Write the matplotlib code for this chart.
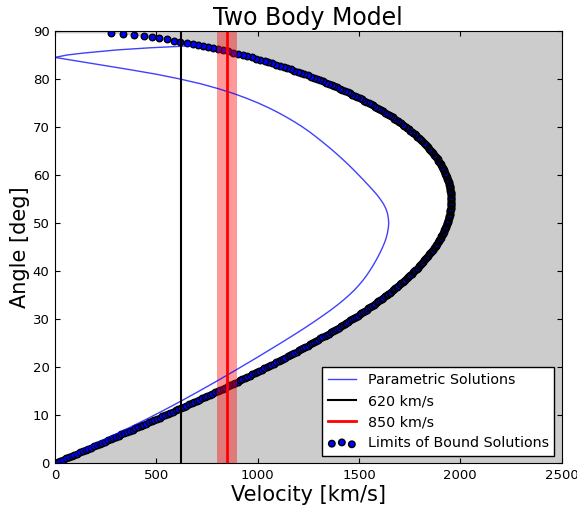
import numpy as np
import matplotlib
matplotlib.use("Agg")
import matplotlib.pyplot as plt

# Upper limit on the line-of-sight velocity for a bound pair, per projection angle
bound_angle = [
    0.0, 0.25, 0.5, 0.75, 1.0, 1.25, 1.5, 1.75, 2.0, 2.25, 2.5, 2.75,
    3.0, 3.25, 3.5, 3.75, 4.0, 4.25, 4.5, 4.75, 5.0, 5.25, 5.5, 5.75,
    6.0, 6.25, 6.5, 6.75, 7.0, 7.25, 7.5, 7.75, 8.0, 8.25, 8.5, 8.75,
    9.0, 9.25, 9.5, 9.75, 10.0, 10.25, 10.5, 10.75, 11.0, 11.25, 11.5, 11.75,
    12.0, 12.25, 12.5, 12.75, 13.0, 13.25, 13.5, 13.75, 14.0, 14.25, 14.5, 14.75,
    15.0, 15.25, 15.5, 15.75, 16.0, 16.25, 16.5, 16.75, 17.0, 17.25, 17.5, 17.75,
    18.0, 18.25, 18.5, 18.75, 19.0, 19.25, 19.5, 19.75, 20.0, 20.25, 20.5, 20.75,
    21.0, 21.25, 21.5, 21.75, 22.0, 22.25, 22.5, 22.75, 23.0, 23.25, 23.5, 23.75,
    24.0, 24.25, 24.5, 24.75, 25.0, 25.25, 25.5, 25.75, 26.0, 26.25, 26.5, 26.75,
    27.0, 27.25, 27.5, 27.75, 28.0, 28.25, 28.5, 28.75, 29.0, 29.25, 29.5, 29.75,
    30.0, 30.25, 30.5, 30.75, 31.0, 31.25, 31.5, 31.75, 32.0, 32.25, 32.5, 32.75,
    33.0, 33.25, 33.5, 33.75, 34.0, 34.25, 34.5, 34.75, 35.0, 35.25, 35.5, 35.75,
    36.0, 36.25, 36.5, 36.75, 37.0, 37.25, 37.5, 37.75, 38.0, 38.25, 38.5, 38.75,
    39.0, 39.25, 39.5, 39.75, 40.0, 40.25, 40.5, 40.75, 41.0, 41.25, 41.5, 41.75,
    42.0, 42.25, 42.5, 42.75, 43.0, 43.25, 43.5, 43.75, 44.0, 44.25, 44.5, 44.75,
    45.0, 45.25, 45.5, 45.75, 46.0, 46.25, 46.5, 46.75, 47.0, 47.25, 47.5, 47.75,
    48.0, 48.25, 48.5, 48.75, 49.0, 49.25, 49.5, 49.75, 50.0, 50.25, 50.5, 50.75,
    51.0, 51.25, 51.5, 51.75, 52.0, 52.25, 52.5, 52.75, 53.0, 53.25, 53.5, 53.75,
    54.0, 54.25, 54.5, 54.75, 55.0, 55.25, 55.5, 55.75, 56.0, 56.25, 56.5, 56.75,
    57.0, 57.25, 57.5, 57.75, 58.0, 58.25, 58.5, 58.75, 59.0, 59.25, 59.5, 59.75,
    60.0, 60.25, 60.5, 60.75, 61.0, 61.25, 61.5, 61.75, 62.0, 62.25, 62.5, 62.75,
    63.0, 63.25, 63.5, 63.75, 64.0, 64.25, 64.5, 64.75, 65.0, 65.25, 65.5, 65.75,
    66.0, 66.25, 66.5, 66.75, 67.0, 67.25, 67.5, 67.75, 68.0, 68.25, 68.5, 68.75,
    69.0, 69.25, 69.5, 69.75, 70.0, 70.25, 70.5, 70.75, 71.0, 71.25, 71.5, 71.75,
    72.0, 72.25, 72.5, 72.75, 73.0, 73.25, 73.5, 73.75, 74.0, 74.25, 74.5, 74.75,
    75.0, 75.25, 75.5, 75.75, 76.0, 76.25, 76.5, 76.75, 77.0, 77.25, 77.5, 77.75,
    78.0, 78.25, 78.5, 78.75, 79.0, 79.25, 79.5, 79.75, 80.0, 80.25, 80.5, 80.75,
    81.0, 81.25, 81.5, 81.75, 82.0, 82.25, 82.5, 82.75, 83.0, 83.25, 83.5, 83.75,
    84.0, 84.25, 84.5, 84.75, 85.0, 85.25, 85.5, 85.75, 86.0, 86.25,
    86.5, 86.7, 86.9, 87.1, 87.3, 87.55, 87.8, 88.0, 88.25, 88.45,
    88.7, 88.9, 89.1, 89.35, 89.6,
]
bound_velocity = [
    0, 14, 27, 41, 55, 69, 82, 96, 110, 124, 137, 151,
    165, 178, 192, 206, 220, 233, 247, 260, 274, 288, 301, 315,
    328, 342, 356, 369, 383, 396, 410, 423, 436, 450, 463, 477,
    490, 503, 516, 530, 543, 556, 569, 583, 596, 609, 622, 635,
    648, 661, 674, 687, 700, 713, 725, 738, 751, 764, 776, 789,
    802, 814, 827, 839, 852, 864, 876, 889, 901, 913, 925, 937,
    950, 962, 974, 986, 998, 1009, 1021, 1033, 1045, 1056, 1068, 1080,
    1091, 1103, 1114, 1125, 1137, 1148, 1159, 1170, 1181, 1192, 1203, 1214,
    1225, 1236, 1247, 1257, 1268, 1278, 1289, 1299, 1310, 1320, 1330, 1340,
    1350, 1360, 1370, 1380, 1390, 1400, 1410, 1419, 1429, 1438, 1448, 1457,
    1466, 1475, 1485, 1494, 1503, 1511, 1520, 1529, 1538, 1546, 1555, 1563,
    1572, 1580, 1588, 1596, 1604, 1612, 1620, 1628, 1636, 1643, 1651, 1658,
    1666, 1673, 1680, 1688, 1695, 1702, 1709, 1715, 1722, 1729, 1735, 1742,
    1748, 1754, 1761, 1767, 1773, 1779, 1785, 1790, 1796, 1801, 1807, 1812,
    1818, 1823, 1828, 1833, 1838, 1843, 1847, 1852, 1857, 1861, 1865, 1869,
    1874, 1878, 1882, 1885, 1889, 1893, 1896, 1900, 1903, 1906, 1910, 1913,
    1916, 1918, 1921, 1924, 1926, 1929, 1931, 1933, 1935, 1937, 1939, 1941,
    1943, 1944, 1946, 1947, 1948, 1949, 1951, 1951, 1952, 1953, 1954, 1954,
    1954, 1955, 1955, 1955, 1955, 1955, 1954, 1954, 1954, 1953, 1952, 1951,
    1950, 1949, 1948, 1947, 1945, 1944, 1942, 1940, 1938, 1936, 1934, 1932,
    1930, 1927, 1925, 1922, 1919, 1916, 1913, 1910, 1906, 1903, 1899, 1896,
    1892, 1888, 1884, 1880, 1875, 1871, 1866, 1861, 1857, 1852, 1846, 1841,
    1836, 1830, 1825, 1819, 1813, 1807, 1801, 1795, 1788, 1782, 1775, 1768,
    1761, 1754, 1747, 1739, 1732, 1724, 1716, 1708, 1700, 1692, 1683, 1675,
    1666, 1657, 1648, 1639, 1629, 1620, 1610, 1600, 1590, 1580, 1570, 1559,
    1548, 1537, 1527, 1515, 1504, 1492, 1480, 1468, 1456, 1444, 1431, 1418,
    1405, 1392, 1379, 1365, 1351, 1337, 1323, 1308, 1293, 1278, 1263, 1247,
    1231, 1215, 1198, 1181, 1164, 1147, 1129, 1110, 1092, 1073, 1053, 1034,
    1013, 992, 971, 949, 927, 904, 880, 855, 830, 804,
    782, 757, 732, 708, 680, 650, 617, 585, 551, 515,
    479, 441, 391, 337, 275,
]

# Parametric solutions: main loop from the cusp round to the origin
loop_velocity = [
    0, 72, 217, 362, 500, 617, 720, 805, 880, 945,
    1003, 1055, 1102, 1145, 1185, 1222, 1256, 1287, 1317, 1346,
    1374, 1401, 1427, 1452, 1476, 1499, 1522, 1544, 1566, 1587,
    1605, 1621, 1633, 1641, 1645, 1647, 1645, 1641, 1635, 1627,
    1617, 1606, 1594, 1581, 1567, 1552, 1536, 1518, 1498, 1476,
    1451, 1424, 1395, 1364, 1331, 1297, 1262, 1226, 1189, 1151,
    1113, 1074, 1035, 996, 956, 916, 876, 835, 794, 752,
    710, 667, 624, 580, 535, 489, 443, 395, 346, 296,
    246, 197, 147, 98, 49, 0,
]
loop_angle = [
    84.5, 84.0, 83.0, 82.0, 81.0, 80.0, 79.0, 78.0, 77.0, 76.0,
    75.0, 74.0, 73.0, 72.0, 71.0, 70.0, 69.0, 68.0, 67.0, 66.0,
    65.0, 64.0, 63.0, 62.0, 61.0, 60.0, 59.0, 58.0, 57.0, 56.0,
    55.0, 54.0, 53.0, 52.0, 51.0, 50.0, 49.0, 48.0, 47.0, 46.0,
    45.0, 44.0, 43.0, 42.0, 41.0, 40.0, 39.0, 38.0, 37.0, 36.0,
    35.0, 34.0, 33.0, 32.0, 31.0, 30.0, 29.0, 28.0, 27.0, 26.0,
    25.0, 24.0, 23.0, 22.0, 21.0, 20.0, 19.0, 18.0, 17.0, 16.0,
    15.0, 14.0, 13.0, 12.0, 11.0, 10.0, 9.0, 8.0, 7.0, 6.0,
    5.0, 4.0, 3.0, 2.0, 1.0, 0.0,
]
# short branch leaving the cusp upwards and meeting the bound limit
upper_velocity = [0, 60, 140, 304, 469, 617, 720]
upper_angle = [84.5, 85.0, 85.4, 86.05, 86.5, 86.8, 87.05]

v_cut1 = 620
v_cut2 = 850
v_cut2_err = 50

fig = plt.figure(figsize=(5.77, 5.07), dpi=100)
ax = fig.add_axes([0.0953, 0.0862, 0.878, 0.8527])
ax.set_facecolor('0.8')

# white where bound solutions exist
ax.fill_betweenx(bound_angle, 0, bound_velocity, color='white', lw=0, zorder=0)

ax.plot(loop_velocity, loop_angle, color='blue', alpha=0.75, lw=1,
        label='Parametric Solutions')
ax.plot(upper_velocity, upper_angle, color='blue', alpha=0.75, lw=1)
ax.axvline(v_cut1, color='black', lw=1.5, label='620 km/s')
ax.axvline(v_cut2, color='red', lw=2, label='850 km/s')
ax.scatter(bound_velocity, bound_angle, s=22, c='blue', edgecolors='black',
           linewidths=1, label='Limits of Bound Solutions', zorder=1)
ax.axvspan(v_cut2 - v_cut2_err, v_cut2 + v_cut2_err, color='red', alpha=0.4,
           lw=0, zorder=1.5)

ax.set_xlim(0, 2500)
ax.set_ylim(0, 90)
ax.set_xticks([0, 500, 1000, 1500, 2000, 2500])
ax.set_yticks(range(0, 91, 10))
ax.tick_params(direction='in', top=True, right=True, length=3.5,
               labelsize=9.5, pad=4)
ax.set_title('Two Body Model', fontsize=17, pad=4)
ax.set_xlabel('Velocity [km/s]', fontsize=15, labelpad=2)
ax.set_ylabel('Angle [deg]', fontsize=15, labelpad=2)

leg = ax.legend(loc='lower right', fontsize=10.3, scatterpoints=3,
                fancybox=False, framealpha=1, edgecolor='black',
                borderaxespad=0.5)
leg.get_frame().set_linewidth(1)

fig.savefig('out.png', dpi=100)
